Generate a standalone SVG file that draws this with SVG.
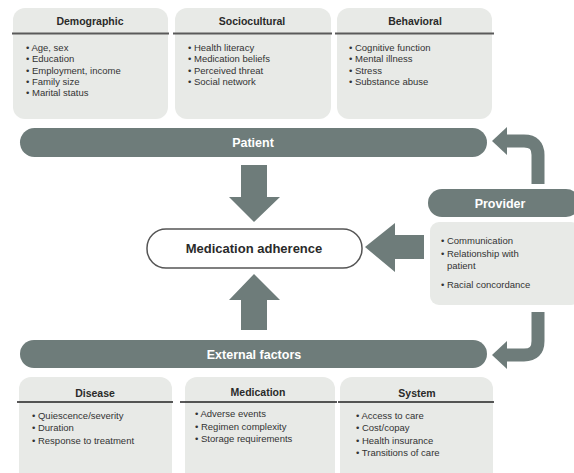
<svg xmlns="http://www.w3.org/2000/svg" width="574" height="473" viewBox="0 0 574 473">
<style>
.box{fill:#e8eae7;}
.bar{fill:#6e7c7a;}
.arr{fill:#6e7c7a;}
.flow{fill:none;stroke:#6e7c7a;stroke-width:13;}
.hdr{font-family:"Liberation Sans",Arial,sans-serif;font-size:10.5px;font-weight:bold;fill:#2a2a2a;text-anchor:middle;}
.bt{font-family:"Liberation Sans",Arial,sans-serif;font-size:12.5px;font-weight:bold;fill:#ffffff;text-anchor:middle;}
.it{font-family:"Liberation Sans",Arial,sans-serif;font-size:9.5px;fill:#333333;}
.tl{stroke:#5a5a5a;stroke-width:2;}
.bl{stroke:#222222;stroke-width:1.5;}
</style>
<rect width="574" height="473" fill="#ffffff"/>

<g id="demographic">
<rect class="box" x="13" y="8" width="155" height="111" rx="12"/>
<line class="tl" x1="12" y1="33.5" x2="169" y2="33.5"/>
<text class="hdr" x="90" y="25">Demographic</text>
<text class="it" x="26" y="51">• Age, sex</text>
<text class="it" x="26" y="62">• Education</text>
<text class="it" x="26" y="74">• Employment, income</text>
<text class="it" x="26" y="85">• Family size</text>
<text class="it" x="26" y="96">• Marital status</text>
</g>

<g id="sociocultural">
<rect class="box" x="175" y="8" width="156" height="111" rx="12"/>
<line class="tl" x1="173" y1="33.5" x2="332" y2="33.5"/>
<text class="hdr" x="252" y="25">Sociocultural</text>
<text class="it" x="188" y="51">• Health literacy</text>
<text class="it" x="188" y="62">• Medication beliefs</text>
<text class="it" x="188" y="74">• Perceived threat</text>
<text class="it" x="188" y="85">• Social network</text>
</g>

<g id="behavioral">
<rect class="box" x="337" y="8" width="155" height="111" rx="12"/>
<line class="tl" x1="335" y1="33.5" x2="494" y2="33.5"/>
<text class="hdr" x="415" y="25">Behavioral</text>
<text class="it" x="349" y="51">• Cognitive function</text>
<text class="it" x="349" y="62">• Mental illness</text>
<text class="it" x="349" y="74">• Stress</text>
<text class="it" x="349" y="85">• Substance abuse</text>
</g>

<g id="patient">
<rect class="bar" x="20" y="128" width="467" height="29" rx="14.5"/>
<text class="bt" x="253" y="147">Patient</text>
</g>

<g id="provider">
<rect class="bar" x="428" y="189" width="152" height="28" rx="14"/>
<text class="bt" x="500" y="207.5">Provider</text>
<rect class="box" x="430" y="222" width="150" height="83" rx="9"/>
<text class="it" x="441" y="243.5">• Communication</text>
<text class="it" x="441" y="257">• Relationship with</text>
<text class="it" x="447" y="268.5">patient</text>
<text class="it" x="441" y="287.5">• Racial concordance</text>
</g>

<g id="adherence">
<rect x="147" y="229" width="215" height="39" rx="19" fill="#ffffff" stroke="#555555" stroke-width="1.5"/>
<text class="hdr" x="254" y="252.5" style="font-size:13px">Medication adherence</text>
</g>

<g id="external">
<rect class="bar" x="20" y="340" width="467" height="28" rx="14"/>
<text class="bt" x="254" y="358.5">External factors</text>
</g>

<g id="disease">
<rect class="box" x="19" y="377" width="153" height="110" rx="12"/>
<line class="bl" x1="17" y1="402" x2="173" y2="402"/>
<text class="hdr" x="95" y="396.5">Disease</text>
<text class="it" x="32" y="418.5">• Quiescence/severity</text>
<text class="it" x="32" y="431">• Duration</text>
<text class="it" x="32" y="443.5">• Response to treatment</text>
</g>

<g id="medication">
<rect class="box" x="185" y="377" width="150" height="110" rx="12"/>
<line class="bl" x1="180" y1="402" x2="337" y2="402"/>
<text class="hdr" x="258" y="395.5">Medication</text>
<text class="it" x="195" y="417">• Adverse events</text>
<text class="it" x="195" y="429.5">• Regimen complexity</text>
<text class="it" x="195" y="442">• Storage requirements</text>
</g>

<g id="system">
<rect class="box" x="340" y="377" width="153" height="110" rx="12"/>
<line class="bl" x1="338" y1="402" x2="494" y2="402"/>
<text class="hdr" x="417" y="396.5">System</text>
<text class="it" x="356" y="418.5">• Access to care</text>
<text class="it" x="356" y="431">• Cost/copay</text>
<text class="it" x="356" y="443.5">• Health insurance</text>
<text class="it" x="356" y="456">• Transitions of care</text>
</g>

<g id="connectors">
<polygon class="arr" points="241,165 267,165 267,197 280,197 254,222 229,197 241,197"/>
<polygon class="arr" points="241,330 267,330 267,300 280,300 254,274 229,300 241,300"/>
<polygon class="arr" points="424,235 424,259 395,259 395,272 365,247 395,223 395,235"/>
<path class="flow" d="M538,184 V155 Q538,141 524,141 H503"/>
<polygon class="arr" points="492,141 507,127 507,155"/>
<path class="flow" d="M538,312 V341 Q538,355 524,355 H503"/>
<polygon class="arr" points="492,355 507,341 507,369"/>
</g>
</svg>
